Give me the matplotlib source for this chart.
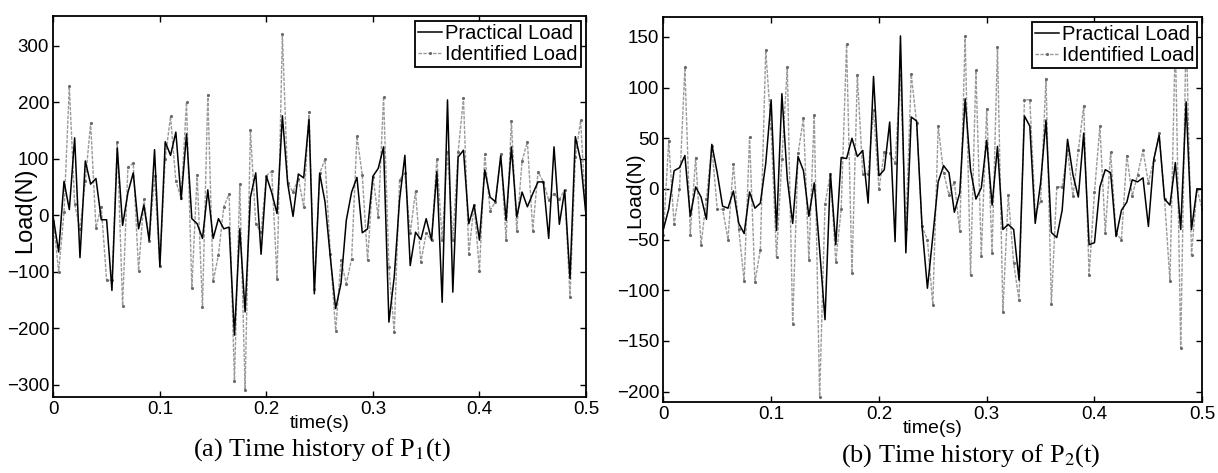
import numpy as np
import matplotlib
matplotlib.use("Agg")
import matplotlib.pyplot as plt

plt.rcParams['font.family'] = ['Liberation Sans', 'DejaVu Sans']
plt.rcParams['mathtext.fontset'] = 'stix'

time = np.linspace(0, 0.5, 101)

p1_practical = [-5, -65, 60, 10, 137, -75, 96, 55, 65, -8, -8, -133, 119, -18, 40, 75, -24, 18, -45, 116,
                -91, 130, 106, 147, 28, 144, -6, -15, -41, 45, -41, -6, -24, -21, -212, -24, -171, 32, 75, -69,
                69, 40, 3, 176, 56, -2, 73, 66, 170, -139, 74, 24, -74, -165, -121, -9, 41, 67, -31, -24,
                69, 83, 121, -189, -109, 27, 106, -89, -30, -43, -6, -44, 77, -154, 204, -136, 103, 115, -15, 18,
                -44, 80, 32, 24, 105, -9, 121, -3, 41, 15, 38, 59, 59, -41, 121, -16, 44, -112, 139, 97, 0]
p1_identified = [-10, -100, 5, 228, 20, -25, 60, 163, -22, 15, -115, -115, 130, -160, 85, 92, -98, 28, -45, 70,
                 -90, 100, 175, 60, 30, 200, -128, 72, -163, 213, -117, -70, 15, 38, -293, 55, -310, 150, -15, -30,
                 70, 78, -113, 320, 57, 41, 65, 15, 183, -130, 74, 99, -68, -204, -80, -121, -77, 140, 71, -80,
                 68, -3, 210, -92, -207, 63, 74, -32, 43, -83, -32, -44, 100, -44, 112, -44, 112, 207, -68, 19,
                 -99, 108, 8, 24, 108, -43, 167, -27, 96, 130, -27, 77, 59, 27, 38, 28, 45, -145, 103, 168, -5]

p2_practical = [-40, -20, 18, 21, 33, -27, 2, -8, -30, 44, 16, -17, -19, -2, -34, -44, -3, -19, -14, 25,
                88, -41, 94, 10, -34, 32, 18, -27, 6, -60, -129, 15, -55, 31, 30, 50, 32, 38, -14, 111,
                13, 19, 66, -52, 151, -63, 71, 67, -37, -98, -47, 7, 23, 16, -23, -4, 89, 19, -10, 1,
                48, -16, 42, -40, -35, -40, -90, 72, 62, -34, 6, 68, -43, -48, -21, 49, 14, -8, 55, -55,
                -53, 2, 19, 16, -47, -21, -13, 9, 7, 11, -37, 29, 53, -10, -16, 26, -40, 86, -40, 0, 0]
p2_identified = [-45, 47, -35, 0, 120, -45, 31, -55, -10, 42, -20, -20, -50, 25, -40, -91, 51, -92, -60, 137,
                 60, -67, 30, 120, -133, 35, 70, -70, 73, -205, -15, 15, -72, -20, 143, -83, 112, 15, 15, 78,
                 0, 36, 35, 26, 112, -40, 113, 65, -37, -50, -115, 62, 16, -6, 7, -42, 151, -85, 117, -66,
                 79, -63, 140, -121, -6, -73, -110, 88, 88, -24, -12, 109, -114, 2, 2, 38, -7, 38, 82, -85,
                 -3, 62, -43, 36, -44, -50, 33, -7, 14, 38, 6, 29, 55, -10, -91, 150, -157, 160, -65, 0, -20]

panels = [
    dict(prac=p1_practical, iden=p1_identified, ylim=(-321, 353), yticks=[-300, -200, -100, 0, 100, 200, 300],
         pos=[0.0438, 0.1613, 0.4373, 0.8055], ylab=(-0.0325, 0.49), ylabsize=17, xlab=(0.5, -0.047),
         caption="(a) Time history of P$_1$(t)", capx=0.2645, capy=0.050),
    dict(prac=p2_practical, iden=p2_identified, ylim=(-210, 170), yticks=[-200, -150, -100, -50, 0, 50, 100, 150],
         pos=[0.5446, 0.1507, 0.4425, 0.8140], ylab=(-0.036, 0.55), ylabsize=15, xlab=(0.5, -0.047),
         caption="(b) Time history of P$_2$(t)", capx=0.797, capy=0.036),
]

fig = plt.figure(figsize=(12.18, 4.73), dpi=100)
for p in panels:
    ax = fig.add_axes(p['pos'])
    ax.plot(time, p['iden'], color='#9a9a9a', lw=1.0, ls=(0, (2.5, 1)), marker='.', ms=2.5,
            mfc='#6a6a6a', mec='#6a6a6a', label='Identified Load', zorder=2)
    ax.plot(time, p['prac'], color='black', lw=1.1, label='Practical Load', zorder=3)
    ax.set_xlim(0, 0.5)
    ax.set_ylim(*p['ylim'])
    ax.set_xticks([0, 0.1, 0.2, 0.3, 0.4, 0.5])
    ax.set_xticklabels(['0', '0.1', '0.2', '0.3', '0.4', '0.5'])
    ax.set_yticks(p['yticks'])
    ax.tick_params(direction='in', top=True, right=True, labelsize=13.5, length=4, width=1, pad=3)
    for s in ax.spines.values():
        s.set_linewidth(1.3)
    ax.set_ylabel('Load(N)', fontsize=p['ylabsize'])
    ax.yaxis.set_label_coords(*p['ylab'])
    ax.set_xlabel('time(s)', fontsize=14)
    ax.xaxis.set_label_coords(*p['xlab'])
    handles, labels = ax.get_legend_handles_labels()
    leg = ax.legend(handles[::-1], labels[::-1], loc='upper right', fontsize=14.5, fancybox=False,
                    framealpha=1, edgecolor='black', borderpad=0.15, labelspacing=0.1,
                    handlelength=1.2, handletextpad=0.15, borderaxespad=0.25)
    leg.get_frame().set_linewidth(1.3)
    fig.text(p['capx'], p['capy'], p['caption'], ha='center', va='center', fontsize=19,
             family='Liberation Serif', zorder=5)

fig.savefig('out.png', dpi=100)
